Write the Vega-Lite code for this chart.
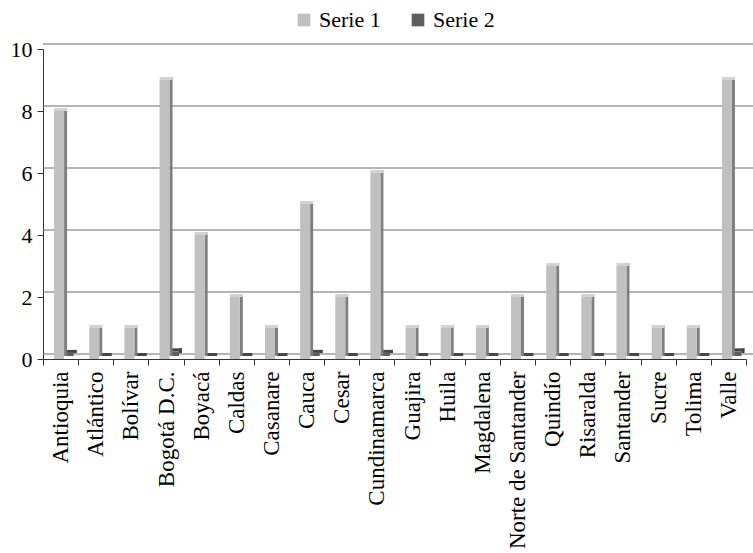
{
  "$schema": "https://vega.github.io/schema/vega-lite/v6.json",
  "width": 703,
  "height": 310,
  "autosize": {"type": "none"},
  "padding": {"left": 43, "top": 49, "right": 7, "bottom": 194},
  "background": "white",
  "config": {
    "font": "Liberation Serif, DejaVu Serif, serif",
    "view": {"stroke": null},
    "axis": {
      "labelFont": "Liberation Serif, DejaVu Serif, serif",
      "labelColor": "#000",
      "domainColor": "#333",
      "tickColor": "#333",
      "grid": false
    },
    "axisX": {
      "labelAngle": -90,
      "labelAlign": "right",
      "labelBaseline": "middle",
      "labelFontSize": 23,
      "labelPadding": 6,
      "labelLimit": 400,
      "tickBand": "extent",
      "tickSize": 6
    },
    "axisY": {
      "labelFontSize": 22,
      "labelPadding": 5,
      "tickSize": 6
    },
    "legend": {
      "orient": "none",
      "legendX": 250,
      "legendY": -40,
      "direction": "horizontal",
      "title": null,
      "labelFont": "Liberation Serif, DejaVu Serif, serif",
      "labelFontSize": 22,
      "labelColor": "#000",
      "symbolType": "square",
      "symbolSize": 160,
      "symbolStrokeWidth": 0,
      "labelOffset": 4,
      "columnPadding": 26
    }
  },
  "datasets": {
    "bars": [
      {"dept": "Antioquia", "serie": "Serie 1", "value": 8},
      {"dept": "Atlántico", "serie": "Serie 1", "value": 1},
      {"dept": "Bolívar", "serie": "Serie 1", "value": 1},
      {"dept": "Bogotá D.C.", "serie": "Serie 1", "value": 9},
      {"dept": "Boyacá", "serie": "Serie 1", "value": 4},
      {"dept": "Caldas", "serie": "Serie 1", "value": 2},
      {"dept": "Casanare", "serie": "Serie 1", "value": 1},
      {"dept": "Cauca", "serie": "Serie 1", "value": 5},
      {"dept": "Cesar", "serie": "Serie 1", "value": 2},
      {"dept": "Cundinamarca", "serie": "Serie 1", "value": 6},
      {"dept": "Guajira", "serie": "Serie 1", "value": 1},
      {"dept": "Huila", "serie": "Serie 1", "value": 1},
      {"dept": "Magdalena", "serie": "Serie 1", "value": 1},
      {"dept": "Norte de Santander", "serie": "Serie 1", "value": 2},
      {"dept": "Quindío", "serie": "Serie 1", "value": 3},
      {"dept": "Risaralda", "serie": "Serie 1", "value": 2},
      {"dept": "Santander", "serie": "Serie 1", "value": 3},
      {"dept": "Sucre", "serie": "Serie 1", "value": 1},
      {"dept": "Tolima", "serie": "Serie 1", "value": 1},
      {"dept": "Valle", "serie": "Serie 1", "value": 9},
      {"dept": "Antioquia", "serie": "Serie 2", "value": 0.1},
      {"dept": "Atlántico", "serie": "Serie 2", "value": 0},
      {"dept": "Bolívar", "serie": "Serie 2", "value": 0},
      {"dept": "Bogotá D.C.", "serie": "Serie 2", "value": 0.15},
      {"dept": "Boyacá", "serie": "Serie 2", "value": 0},
      {"dept": "Caldas", "serie": "Serie 2", "value": 0},
      {"dept": "Casanare", "serie": "Serie 2", "value": 0},
      {"dept": "Cauca", "serie": "Serie 2", "value": 0.1},
      {"dept": "Cesar", "serie": "Serie 2", "value": 0},
      {"dept": "Cundinamarca", "serie": "Serie 2", "value": 0.1},
      {"dept": "Guajira", "serie": "Serie 2", "value": 0},
      {"dept": "Huila", "serie": "Serie 2", "value": 0},
      {"dept": "Magdalena", "serie": "Serie 2", "value": 0},
      {"dept": "Norte de Santander", "serie": "Serie 2", "value": 0},
      {"dept": "Quindío", "serie": "Serie 2", "value": 0},
      {"dept": "Risaralda", "serie": "Serie 2", "value": 0},
      {"dept": "Santander", "serie": "Serie 2", "value": 0},
      {"dept": "Sucre", "serie": "Serie 2", "value": 0},
      {"dept": "Tolima", "serie": "Serie 2", "value": 0},
      {"dept": "Valle", "serie": "Serie 2", "value": 0.15}
    ],
    "grid": [
      {"v": 0}, {"v": 2}, {"v": 4}, {"v": 6}, {"v": 8}, {"v": 10}
    ]
  },
  "layer": [
    {
      "data": {"name": "grid"},
      "mark": {"type": "rule", "color": "#6a6a6a", "strokeWidth": 1, "xOffset": 10, "yOffset": -5},
      "encoding": {
        "y": {"field": "v", "type": "quantitative", "title": null,
              "scale": {"domain": [0, 10], "nice": false},
              "axis": {"values": [0, 2, 4, 6, 8, 10]}}
      }
    },
    {
      "data": {"name": "bars"},
      "transform": [{"filter": "datum.serie === 'Serie 2'"}],
      "mark": {"type": "bar", "width": 3, "color": "#3a3a3a", "xOffset": 14.5, "yOffset": -6, "y2Offset": -6},
      "encoding": {
        "x": {"field": "dept", "type": "nominal", "sort": null, "title": null,
              "scale": {"paddingInner": 0, "paddingOuter": 0}},
        "y": {"field": "value", "type": "quantitative", "title": null}
      }
    },
    {
      "data": {"name": "bars"},
      "transform": [{"filter": "datum.serie === 'Serie 2'"}],
      "mark": {"type": "bar", "width": 12, "color": "#474747", "xOffset": 10, "yOffset": -6, "y2Offset": -3},
      "encoding": {
        "x": {"field": "dept", "type": "nominal", "sort": null, "title": null},
        "y": {"field": "value", "type": "quantitative", "title": null},
        "y2": {"field": "value"}
      }
    },
    {
      "data": {"name": "bars"},
      "transform": [{"filter": "datum.serie === 'Serie 2'"}],
      "mark": {"type": "bar", "width": 9, "xOffset": 8.5, "yOffset": -3, "y2Offset": -3},
      "encoding": {
        "x": {"field": "dept", "type": "nominal", "sort": null, "title": null},
        "y": {"field": "value", "type": "quantitative", "title": null},
        "color": {"field": "serie", "type": "nominal",
                  "scale": {"domain": ["Serie 1", "Serie 2"], "range": ["#c0c0c0", "#5e5e5e"]}}
      }
    },
    {
      "data": {"name": "bars"},
      "transform": [{"filter": "datum.serie === 'Serie 1'"}],
      "mark": {"type": "bar", "width": 3, "color": "#7f7f7f", "xOffset": 5, "yOffset": -3, "y2Offset": -3},
      "encoding": {
        "x": {"field": "dept", "type": "nominal", "sort": null, "title": null},
        "y": {"field": "value", "type": "quantitative", "title": null}
      }
    },
    {
      "data": {"name": "bars"},
      "transform": [{"filter": "datum.serie === 'Serie 1'"}],
      "mark": {"type": "bar", "width": 13, "color": "#d2d2d2", "xOffset": 0, "yOffset": -3, "y2Offset": 0},
      "encoding": {
        "x": {"field": "dept", "type": "nominal", "sort": null, "title": null},
        "y": {"field": "value", "type": "quantitative", "title": null},
        "y2": {"field": "value"}
      }
    },
    {
      "data": {"name": "bars"},
      "transform": [{"filter": "datum.serie === 'Serie 1'"}],
      "mark": {"type": "bar", "width": 10, "xOffset": -1.5},
      "encoding": {
        "x": {"field": "dept", "type": "nominal", "sort": null, "title": null},
        "y": {"field": "value", "type": "quantitative", "title": null},
        "color": {"field": "serie", "type": "nominal"}
      }
    }
  ]
}
